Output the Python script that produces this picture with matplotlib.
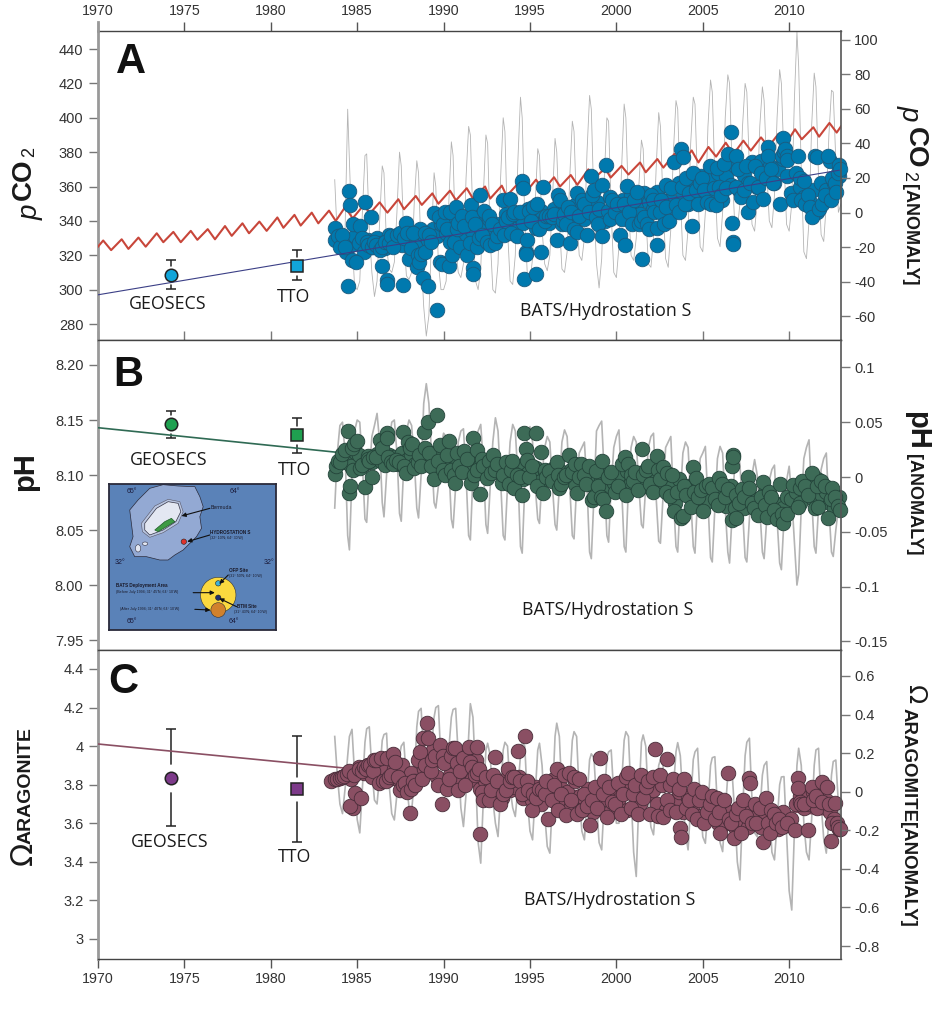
"""Ocean acidification time series: pCO2, pH and aragonite saturation, three stacked panels."""
import matplotlib
matplotlib.use("Agg")
import matplotlib.pyplot as plt
from matplotlib.patches import Polygon, Circle, Ellipse

plt.rcParams["font.family"] = ["Liberation Sans", "DejaVu Sans"]

W, H = 942, 1022
SANS = "Open Sans"

# ── Data ─────────────────────────────────────────────────────────────

year_ticks = [1970, 1975, 1980, 1985, 1990, 1995, 2000, 2005, 2010]

# seasonal time grid of the grey lines, one row per year
gray_years = [
    1983.7, 1983.85,
    1984.0, 1984.15, 1984.3, 1984.45, 1984.55, 1984.7, 1984.85,
    1985.0, 1985.15, 1985.3, 1985.45, 1985.55, 1985.7, 1985.85,
    1986.0, 1986.15, 1986.3, 1986.45, 1986.55, 1986.7, 1986.85,
    1987.0, 1987.15, 1987.3, 1987.45, 1987.55, 1987.7, 1987.85,
    1988.0, 1988.15, 1988.3, 1988.45, 1988.55, 1988.7, 1988.85,
    1989.0, 1989.15, 1989.3, 1989.45, 1989.55, 1989.7, 1989.85,
    1990.0, 1990.15, 1990.3, 1990.45, 1990.55, 1990.7, 1990.85,
    1991.0, 1991.15, 1991.3, 1991.45, 1991.55, 1991.7, 1991.85,
    1992.0, 1992.15, 1992.3, 1992.45, 1992.55, 1992.7, 1992.85,
    1993.0, 1993.15, 1993.3, 1993.45, 1993.55, 1993.7, 1993.85,
    1994.0, 1994.15, 1994.3, 1994.45, 1994.55, 1994.7, 1994.85,
    1995.0, 1995.15, 1995.3, 1995.45, 1995.55, 1995.7, 1995.85,
    1996.0, 1996.15, 1996.3, 1996.45, 1996.55, 1996.7, 1996.85,
    1997.0, 1997.15, 1997.3, 1997.45, 1997.55, 1997.7, 1997.85,
    1998.0, 1998.15, 1998.3, 1998.45, 1998.55, 1998.7, 1998.85,
    1999.0, 1999.15, 1999.3, 1999.45, 1999.55, 1999.7, 1999.85,
    2000.0, 2000.15, 2000.3, 2000.45, 2000.55, 2000.7, 2000.85,
    2001.0, 2001.15, 2001.3, 2001.45, 2001.55, 2001.7, 2001.85,
    2002.0, 2002.15, 2002.3, 2002.45, 2002.55, 2002.7, 2002.85,
    2003.0, 2003.15, 2003.3, 2003.45, 2003.55, 2003.7, 2003.85,
    2004.0, 2004.15, 2004.3, 2004.45, 2004.55, 2004.7, 2004.85,
    2005.0, 2005.15, 2005.3, 2005.45, 2005.55, 2005.7, 2005.85,
    2006.0, 2006.15, 2006.3, 2006.45, 2006.55, 2006.7, 2006.85,
    2007.0, 2007.15, 2007.3, 2007.45, 2007.55, 2007.7, 2007.85,
    2008.0, 2008.15, 2008.3, 2008.45, 2008.55, 2008.7, 2008.85,
    2009.0, 2009.15, 2009.3, 2009.45, 2009.55, 2009.7, 2009.85,
    2010.0, 2010.15, 2010.3, 2010.45, 2010.55, 2010.7, 2010.85,
    2011.0, 2011.15, 2011.3, 2011.45, 2011.55, 2011.7, 2011.85,
    2012.0, 2012.15, 2012.3, 2012.45, 2012.55, 2012.7, 2012.85,
    2013.0,
]

pco2_gray = [
    364, 330,
    322, 320, 335, 405, 375, 330, 302,
    300, 305, 345, 378, 379, 335, 310,
    296, 305, 340, 372, 368, 325, 312,
    310, 316, 345, 380, 372, 330, 308,
    306, 310, 350, 375, 368, 320, 290,
    273, 285, 330, 368, 360, 315, 300,
    300, 305, 350, 386, 378, 325, 310,
    307, 315, 365, 395, 390, 340, 305,
    300, 312, 355, 390, 385, 330, 300,
    298, 315, 365, 400, 392, 335, 305,
    303, 320, 375, 412, 400, 340, 308,
    305, 318, 350, 382, 378, 335, 315,
    311, 320, 352, 388, 380, 340, 312,
    310, 322, 365, 398, 392, 345, 320,
    317, 330, 380, 413, 405, 350, 315,
    301, 318, 365, 400, 398, 345, 310,
    307, 325, 370, 408, 400, 350, 320,
    317, 330, 360, 387, 382, 345, 315,
    313, 330, 370, 403, 395, 350, 318,
    313, 335, 380, 410, 405, 355, 320,
    317, 335, 385, 412, 408, 360, 325,
    322, 345, 395, 422, 415, 365, 330,
    325, 345, 400, 425, 420, 370, 338,
    335, 350, 395, 420, 415, 370, 338,
    334, 352, 395, 418, 410, 370, 340,
    336, 355, 400, 428, 420, 375, 338,
    334, 350, 410, 450, 430, 370, 322,
    318, 340, 395, 426, 418, 365, 332,
    328, 350, 390, 416, 415, 375, 345,
    350,
]

ph_gray = [
    8.07, 8.12,
    8.145, 8.148, 8.12, 8.045, 8.032, 8.10, 8.14,
    8.15, 8.148, 8.11, 8.06, 8.057, 8.10, 8.135,
    8.145, 8.156, 8.13, 8.075, 8.062, 8.10, 8.13,
    8.148, 8.15, 8.12, 8.065, 8.058, 8.11, 8.14,
    8.15, 8.145, 8.115, 8.07, 8.061, 8.10, 8.165,
    8.183, 8.165, 8.12, 8.075, 8.07, 8.09, 8.125,
    8.138, 8.135, 8.11, 8.06, 8.052, 8.09, 8.13,
    8.14, 8.142, 8.10, 8.045, 8.041, 8.10, 8.135,
    8.14, 8.146, 8.11, 8.055, 8.047, 8.09, 8.13,
    8.152, 8.14, 8.095, 8.045, 8.041, 8.09, 8.13,
    8.146, 8.14, 8.10, 8.035, 8.029, 8.09, 8.135,
    8.144, 8.13, 8.09, 8.06, 8.056, 8.10, 8.125,
    8.135, 8.13, 8.09, 8.055, 8.05, 8.09, 8.13,
    8.141, 8.135, 8.09, 8.045, 8.042, 8.09, 8.12,
    8.125, 8.13, 8.09, 8.03, 8.024, 8.08, 8.14,
    8.145, 8.149, 8.10, 8.045, 8.039, 8.09, 8.125,
    8.135, 8.141, 8.09, 8.035, 8.03, 8.09, 8.125,
    8.135, 8.13, 8.09, 8.055, 8.052, 8.09, 8.125,
    8.135, 8.138, 8.08, 8.04, 8.038, 8.08, 8.125,
    8.13, 8.135, 8.08, 8.035, 8.03, 8.08, 8.12,
    8.13, 8.125, 8.08, 8.035, 8.029, 8.08, 8.115,
    8.12, 8.126, 8.075, 8.025, 8.021, 8.07, 8.115,
    8.126, 8.12, 8.07, 8.03, 8.02, 8.065, 8.11,
    8.123, 8.11, 8.07, 8.025, 8.021, 8.06, 8.10,
    8.114, 8.10, 8.07, 8.03, 8.024, 8.06, 8.095,
    8.105, 8.109, 8.06, 8.02, 8.014, 8.06, 8.095,
    8.108, 8.08, 8.04, 8.0, 8.01, 8.07, 8.115,
    8.125, 8.132, 8.08, 8.035, 8.029, 8.07, 8.105,
    8.115, 8.12, 8.07, 8.03, 8.026, 8.05, 8.07,
    8.07,
]

omega_gray = [
    4.05, 3.85,
    3.70, 3.65, 3.78, 3.95, 4.05, 4.087, 3.85,
    3.62, 3.55, 3.78, 4.02, 4.09, 4.10, 3.88,
    3.72, 3.70, 3.85, 4.03, 4.06, 4.067, 3.80,
    3.65, 3.617, 3.75, 3.95, 4.0, 4.02, 3.82,
    3.68, 3.66, 3.82, 4.10, 4.18, 4.196, 3.95,
    3.85, 3.88, 3.98, 4.15, 4.2, 4.21, 3.92,
    3.88, 3.87, 3.98, 4.15, 4.19, 4.196, 3.95,
    3.68, 3.583, 3.75, 4.05, 4.22, 4.15, 3.85,
    3.50, 3.393, 3.72, 3.98, 4.015, 3.95, 3.72,
    3.60, 3.531, 3.75, 3.98, 4.02, 4.0, 3.78,
    3.68, 3.635, 3.78, 3.95, 4.02, 4.0, 3.72,
    3.56, 3.514, 3.75, 3.98, 4.015, 3.9, 3.65,
    3.48, 3.445, 3.72, 4.05, 4.119, 4.05, 3.75,
    3.66, 3.65, 3.80, 4.03, 4.075, 4.05, 3.75,
    3.56, 3.514, 3.72, 3.93, 3.96, 3.94, 3.72,
    3.50, 3.462, 3.72, 3.94, 3.97, 3.98, 3.75,
    3.60, 3.6, 3.8, 4.03, 4.075, 4.05, 3.75,
    3.45, 3.324, 3.72, 4.02, 4.058, 4.0, 3.72,
    3.58, 3.54, 3.72, 3.9, 3.93, 3.9, 3.68,
    3.65, 3.65, 3.78, 3.97, 4.018, 3.95, 3.72,
    3.55, 3.462, 3.7, 3.93, 3.97, 3.989, 3.72,
    3.53, 3.496, 3.68, 3.9, 3.94, 3.945, 3.68,
    3.5, 3.453, 3.66, 3.85, 3.87, 3.86, 3.65,
    3.40, 3.306, 3.65, 3.95, 4.02, 4.041, 3.72,
    3.55, 3.53, 3.65, 3.85, 3.9, 3.92, 3.68,
    3.45, 3.41, 3.6, 3.8, 3.84, 3.842, 3.55,
    3.25, 3.15, 3.55, 3.9, 3.989, 3.9, 3.6,
    3.45, 3.41, 3.62, 3.9, 3.98, 3.989, 3.7,
    3.52, 3.445, 3.62, 3.85, 3.92, 3.928, 3.7,
    3.55,
]

# atmospheric CO2, alternating seasonal high and low
air_years = [
    1970.0, 1970.3, 1970.76, 1971.37, 1971.76, 1972.34, 1972.76, 1973.4, 1973.78, 1974.36,
    1974.79, 1975.37, 1975.75, 1976.35, 1976.77, 1977.35, 1977.74, 1978.36, 1978.74, 1979.34,
    1979.76, 1980.38, 1980.73, 1981.37, 1981.73, 1982.37, 1982.75, 1983.37, 1983.76, 1984.3,
    1984.74, 1985.36, 1985.75, 1986.3, 1986.75, 1987.38, 1987.71, 1988.39, 1988.74, 1989.35,
    1989.7, 1990.37, 1990.72, 1991.34, 1991.7, 1992.4, 1992.7, 1993.37, 1993.65, 1994.33,
    1994.7, 1995.35, 1995.78, 1996.39, 1996.74, 1997.36, 1997.74, 1998.38, 1998.67, 1999.35,
    1999.67, 2000.3, 2000.7, 2001.37, 2001.7, 2002.37, 2002.72, 2003.36, 2003.7, 2004.36,
    2004.75, 2005.33, 2005.77, 2006.33, 2006.77, 2007.35, 2007.78, 2008.37, 2008.8, 2009.38,
    2009.8, 2010.34, 2010.73, 2011.4, 2011.73, 2012.33, 2012.75, 2013.0,
]
air_pco2 = [
    325, 328.6, 323, 329.3, 323.7, 330.3, 325, 332.8, 327.6, 333.6,
    327.6, 334.2, 329, 335.2, 329.3, 337, 331.3, 338.6, 332.8, 339.6,
    334.2, 342, 336, 343.5, 337.3, 344.8, 338.6, 346, 340, 348,
    341.5, 349, 344.5, 350.8, 344.8, 352.6, 346.8, 354.5, 349.3, 356,
    350, 357.6, 352, 359, 353, 360, 353, 360.5, 354.5, 362,
    356, 364, 358, 365.4, 360, 366.7, 361, 370, 364.4, 370.6,
    365.2, 372, 367, 374, 368.3, 376, 371, 379, 372.6, 381,
    374, 383, 377.4, 385.5, 378.8, 386.7, 380.9, 388.6, 383.2, 390.6,
    384.8, 393.3, 387.5, 394.5, 389, 397, 391.4, 395,
]

pco2_dot_years = [
    1983.7, 1983.7, 1983.9, 1984.0,
    1984.15, 1984.3, 1984.47, 1984.55, 1984.6, 1984.68, 1984.74, 1984.93,
    1985.17, 1985.3, 1985.46, 1985.55, 1985.65, 1985.8, 1985.85, 1985.95,
    1986.1, 1986.3, 1986.42, 1986.45, 1986.6, 1986.7, 1986.72, 1986.85, 1986.95,
    1987.1, 1987.3, 1987.45, 1987.63, 1987.7, 1987.83, 1987.9,
    1988.02, 1988.1, 1988.25, 1988.45, 1988.5, 1988.6, 1988.7, 1988.83, 1988.9, 1988.95,
    1989.08, 1989.15, 1989.3, 1989.45, 1989.6, 1989.75, 1989.8, 1989.9, 1989.95,
    1990.1, 1990.2, 1990.34, 1990.4, 1990.5, 1990.6, 1990.72, 1990.75, 1990.85, 1990.95,
    1991.05, 1991.2, 1991.34, 1991.5, 1991.59, 1991.65, 1991.69, 1991.7, 1991.8, 1991.95,
    1992.05, 1992.11, 1992.25, 1992.35, 1992.5, 1992.6, 1992.7, 1992.8, 1992.95,
    1993.1, 1993.25, 1993.46, 1993.5, 1993.6, 1993.7, 1993.85, 1993.9,
    1994.0, 1994.1, 1994.25, 1994.4, 1994.52, 1994.58, 1994.68, 1994.75, 1994.76, 1994.8, 1994.95,
    1995.05, 1995.2, 1995.33, 1995.43, 1995.55, 1995.62, 1995.78, 1995.85, 1995.95,
    1996.1, 1996.25, 1996.4, 1996.55, 1996.65, 1996.75, 1996.9, 1996.95,
    1997.1, 1997.2, 1997.3, 1997.4, 1997.55, 1997.7, 1997.72, 1997.85,
    1998.0, 1998.1, 1998.28, 1998.4, 1998.53, 1998.6, 1998.7, 1998.8, 1998.95,
    1999.0, 1999.18, 1999.19, 1999.38, 1999.5, 1999.65, 1999.75, 1999.9,
    2000.05, 2000.2, 2000.3, 2000.45, 2000.5, 2000.6, 2000.75, 2000.9,
    2001.0, 2001.17, 2001.3, 2001.4, 2001.5, 2001.6, 2001.75, 2001.9,
    2002.0, 2002.1, 2002.2, 2002.33, 2002.34, 2002.5, 2002.6, 2002.75, 2002.9,
    2003.05, 2003.15, 2003.36, 2003.45, 2003.6, 2003.74, 2003.8, 2003.88, 2003.95,
    2004.05, 2004.2, 2004.4, 2004.45, 2004.6, 2004.75, 2004.85, 2004.95,
    2005.1, 2005.25, 2005.4, 2005.5, 2005.65, 2005.75, 2005.85, 2005.95,
    2006.05, 2006.2, 2006.35, 2006.48, 2006.64, 2006.67, 2006.73, 2006.74, 2006.9, 2006.95,
    2007.05, 2007.2, 2007.4, 2007.5, 2007.64, 2007.75, 2007.9,
    2008.05, 2008.2, 2008.35, 2008.5, 2008.65, 2008.76, 2008.8, 2008.95,
    2009.05, 2009.47, 2009.6, 2009.67, 2009.7, 2009.75, 2009.85, 2009.9,
    2010.25, 2010.53, 2010.63, 2010.7, 2010.83, 2010.9,
    2011.1, 2011.2, 2011.34, 2011.5, 2011.6, 2011.75, 2011.9,
    2012.1, 2012.27, 2012.4, 2012.5, 2012.66, 2012.7, 2012.8, 2012.9, 2012.95,
]
pco2_dots = [
    336, 329, 331, 325,
    332, 325, 302, 357.6, 349, 317, 338, 316,
    337, 330, 351, 328, 326, 342.5, 325, 328,
    326, 323, 314, 325, 328, 305.7, 303.4, 327, 331,
    325, 332, 333, 302.6, 330, 338.6, 333,
    318, 324, 333, 313, 320, 316, 321, 307, 333, 322,
    302, 332, 328, 344.5, 288, 342, 316, 315, 338,
    345, 335, 314, 345, 320, 328, 348, 335, 339, 325,
    343, 337, 320, 327, 349, 342, 312.5, 309, 338, 325,
    330, 355, 332, 346, 328, 343, 326, 338, 327,
    331, 335, 352, 332, 340, 342, 353, 333,
    344, 345, 331, 345, 363, 359, 306, 322, 321, 329, 346,
    340, 348, 309, 350, 335, 322, 360, 340, 343,
    343, 342, 344, 329, 355, 352, 340, 344,
    338, 348, 327, 345, 335, 356, 333.8, 343,
    352, 350, 332, 345, 366, 355, 358, 342, 338,
    347, 361, 331, 372.5, 346, 341, 352, 345,
    350, 332, 341, 350, 326, 360.5, 345, 338,
    352, 356.7, 338, 340, 318, 342, 338, 335,
    355, 352, 345, 326, 336, 345, 352, 338, 348,
    340, 359, 374.5, 349, 345, 382, 360, 377, 350,
    365, 356, 337, 368, 358, 350, 362, 365,
    358, 351, 372, 350, 359, 349, 371, 360,
    355, 373, 359, 379, 392, 338.7, 328, 326.6, 378, 360,
    370, 354, 358, 372, 345, 362, 351,
    372, 360, 368, 353, 365, 383, 378, 370,
    362, 350, 378, 388, 380, 382, 378, 375.5,
    352, 378, 365, 352, 363, 350,
    355, 348, 342, 378, 377, 347, 350,
    355, 378, 352, 365, 362, 357, 368, 372.5, 370,
]

ph_dot_years = [
    1983.72, 1983.8, 1983.9, 1984.0,
    1984.15, 1984.3, 1984.45, 1984.55, 1984.58, 1984.7, 1984.8, 1984.97, 1984.75,
    1985.17, 1985.3, 1985.46, 1985.6, 1985.7, 1985.84, 1985.9,
    1986.1, 1986.32, 1986.45, 1986.71, 1986.8, 1986.72, 1986.95,
    1987.1, 1987.25, 1987.4, 1987.63, 1987.7, 1987.83, 1987.95,
    1988.05, 1988.2, 1988.3, 1988.5, 1988.6, 1988.7, 1988.87, 1988.9,
    1989.08, 1989.15, 1989.3, 1989.45, 1989.6, 1989.7, 1989.8, 1989.95,
    1990.1, 1990.2, 1990.34, 1990.45, 1990.6, 1990.66, 1990.75, 1990.9,
    1991.05, 1991.2, 1991.35, 1991.57, 1991.69, 1991.75, 1991.92, 1991.95,
    1992.11, 1992.2, 1992.3, 1992.5, 1992.6, 1992.75, 1992.85, 1992.95,
    1993.1, 1993.36, 1993.45, 1993.6, 1993.8, 1993.9, 1993.95,
    1994.1, 1994.25, 1994.4, 1994.56, 1994.68, 1994.77, 1994.8, 1994.95,
    1995.1, 1995.33, 1995.4, 1995.62, 1995.78, 1995.85, 1995.95,
    1996.1, 1996.3, 1996.55, 1996.6, 1996.7, 1996.8, 1996.95,
    1997.1, 1997.28, 1997.45, 1997.6, 1997.74, 1997.85, 1997.95,
    1998.1, 1998.25, 1998.4, 1998.57, 1998.7, 1998.8, 1998.95,
    1999.1, 1999.19, 1999.25, 1999.38, 1999.5, 1999.7, 1999.9,
    2000.1, 2000.3, 2000.5, 2000.54, 2000.7, 2000.85, 2000.95,
    2001.1, 2001.27, 2001.5, 2001.55, 2001.7, 2001.85, 2001.95,
    2002.14, 2002.33, 2002.4, 2002.55, 2002.7, 2002.85, 2002.95,
    2003.1, 2003.2, 2003.34, 2003.5, 2003.73, 2003.88, 2003.9,
    2004.05, 2004.3, 2004.42, 2004.5, 2004.6, 2004.75, 2004.9,
    2005.03, 2005.2, 2005.35, 2005.55, 2005.7, 2005.9, 2005.95,
    2006.1, 2006.3, 2006.45, 2006.67, 2006.67, 2006.73, 2006.74, 2006.92, 2006.95,
    2007.1, 2007.25, 2007.4, 2007.64, 2007.7, 2007.85, 2007.95,
    2008.22, 2008.35, 2008.5, 2008.6, 2008.7, 2008.85, 2008.95,
    2009.1, 2009.3, 2009.47, 2009.6, 2009.66, 2009.86,
    2010.25, 2010.53, 2010.6, 2010.75, 2010.9,
    2011.1, 2011.3, 2011.5, 2011.6, 2011.69, 2011.85,
    2012.05, 2012.27, 2012.4, 2012.5, 2012.66, 2012.8, 2012.95,
]
ph_dots = [
    8.101, 8.108, 8.113, 8.112,
    8.119, 8.123, 8.14, 8.084, 8.09, 8.125, 8.128, 8.131, 8.105,
    8.106, 8.109, 8.089, 8.115, 8.113, 8.098, 8.116,
    8.116, 8.132, 8.125, 8.138, 8.116, 8.134, 8.112,
    8.11, 8.114, 8.112, 8.139, 8.108, 8.102, 8.13,
    8.125, 8.128, 8.106, 8.112, 8.118, 8.108, 8.139, 8.125,
    8.1485, 8.12, 8.108, 8.096, 8.155, 8.113, 8.127, 8.105,
    8.1, 8.118, 8.131, 8.105, 8.1, 8.093, 8.12, 8.108,
    8.103, 8.122, 8.115, 8.093, 8.134, 8.1, 8.123, 8.105,
    8.083, 8.115, 8.108, 8.097, 8.113, 8.102, 8.118, 8.105,
    8.11, 8.093, 8.1, 8.112, 8.092, 8.105, 8.113,
    8.088, 8.1, 8.098, 8.082, 8.138, 8.124, 8.114, 8.098,
    8.108, 8.138, 8.09, 8.121, 8.084, 8.105, 8.098,
    8.104, 8.095, 8.112, 8.1, 8.088, 8.092, 8.098,
    8.1, 8.118, 8.103, 8.11, 8.084, 8.098, 8.11,
    8.1, 8.092, 8.108, 8.077, 8.08, 8.104, 8.09,
    8.08, 8.113, 8.078, 8.067, 8.098, 8.103, 8.085,
    8.09, 8.11, 8.116, 8.082, 8.11, 8.1, 8.095,
    8.103, 8.086, 8.124, 8.1, 8.105, 8.108, 8.092,
    8.085, 8.117, 8.105, 8.096, 8.107, 8.085, 8.102,
    8.081, 8.1, 8.067, 8.085, 8.061, 8.063, 8.09,
    8.082, 8.071, 8.107, 8.085, 8.097, 8.08, 8.086,
    8.067, 8.09, 8.092, 8.088, 8.078, 8.073, 8.097,
    8.092, 8.08, 8.087, 8.059, 8.108, 8.118, 8.116, 8.061, 8.082,
    8.075, 8.087, 8.08, 8.098, 8.088, 8.075, 8.07,
    8.064, 8.08, 8.094, 8.073, 8.062, 8.085, 8.08,
    8.068, 8.06, 8.092, 8.065, 8.056, 8.065,
    8.091, 8.071, 8.088, 8.095, 8.09,
    8.082, 8.102, 8.07, 8.09, 8.071, 8.095,
    8.09, 8.061, 8.078, 8.088, 8.08, 8.072, 8.068,
]

omega_dot_years = [
    1983.5, 1983.7, 1983.85, 1984.0,
    1984.1, 1984.25, 1984.4, 1984.55, 1984.74, 1984.6, 1984.88, 1985.2, 1984.8,
    1985.1, 1985.3, 1985.4, 1985.5, 1985.6, 1985.75, 1985.9, 1985.95,
    1986.1, 1986.27, 1986.35, 1986.5, 1986.65, 1986.75, 1986.85, 1986.95,
    1987.1, 1987.2, 1987.35, 1987.5, 1987.65, 1987.75, 1987.9,
    1988.06, 1988.1, 1988.25, 1988.35, 1988.5, 1988.64, 1988.75, 1988.82, 1988.9,
    1989.02, 1989.12, 1989.25, 1989.35, 1989.5, 1989.65, 1989.8, 1989.9, 1989.95,
    1990.05, 1990.2, 1990.3, 1990.45, 1990.55, 1990.66, 1990.75, 1990.85, 1990.95,
    1991.1, 1991.25, 1991.45, 1991.55, 1991.65, 1991.8, 1991.92, 1991.95,
    1992.05, 1992.11, 1992.2, 1992.3, 1992.45, 1992.6, 1992.75, 1992.85, 1992.98,
    1993.1, 1993.25, 1993.45, 1993.6, 1993.75, 1993.85, 1993.95,
    1994.1, 1994.33, 1994.4, 1994.55, 1994.71, 1994.8, 1994.9,
    1995.1, 1995.2, 1995.35, 1995.5, 1995.7, 1995.85, 1995.95,
    1996.07, 1996.25, 1996.4, 1996.55, 1996.65, 1996.8, 1996.95,
    1997.1, 1997.25, 1997.4, 1997.55, 1997.7, 1997.85,
    1998.0, 1998.15, 1998.3, 1998.48, 1998.6, 1998.75, 1998.9,
    1999.06, 1999.2, 1999.3, 1999.45, 1999.6, 1999.75, 1999.9,
    2000.1, 2000.25, 2000.4, 2000.55, 2000.7, 2000.85, 2000.95,
    2001.1, 2001.25, 2001.4, 2001.55, 2001.7, 2001.85, 2001.95,
    2002.1, 2002.24, 2002.4, 2002.55, 2002.72, 2002.91, 2002.95,
    2003.1, 2003.3, 2003.45, 2003.6, 2003.7, 2003.72, 2003.9,
    2004.05, 2004.2, 2004.35, 2004.5, 2004.65, 2004.8, 2004.95,
    2005.1, 2005.25, 2005.4, 2005.55, 2005.7, 2005.85, 2005.95,
    2006.0, 2006.2, 2006.44, 2006.5, 2006.65, 2006.8, 2006.9,
    2007.05, 2007.2, 2007.35, 2007.5, 2007.7, 2007.72, 2007.85,
    2008.0, 2008.1, 2008.3, 2008.5, 2008.64, 2008.8, 2008.9, 2008.95,
    2009.1, 2009.25, 2009.4, 2009.6, 2009.85,
    2010.34, 2010.53, 2010.54, 2010.6, 2010.7, 2010.85,
    2011.1, 2011.3, 2011.4, 2011.55, 2011.88, 2011.9,
    2012.2, 2012.3, 2012.42, 2012.5, 2012.65, 2012.75, 2012.85, 2012.95,
]
omega_dots = [
    3.82, 3.83, 3.83, 3.835,
    3.84, 3.845, 3.855, 3.87, 3.678, 3.69, 3.759, 3.733, 3.85,
    3.88, 3.87, 3.89, 3.88, 3.90, 3.9, 3.87, 3.93,
    3.93, 3.81, 3.94, 3.82, 3.82, 3.94, 3.84, 3.85,
    3.96, 3.92, 3.84, 3.77, 3.8, 3.81, 3.76,
    3.655, 3.78, 3.82, 3.8, 3.93, 3.972, 3.83, 4.04, 3.9,
    4.122, 4.041, 3.87, 3.93, 3.95, 3.8, 4.008, 3.70, 3.95,
    3.91, 3.78, 3.83, 3.95, 3.99, 3.99, 3.91, 3.77, 3.87,
    3.94, 3.8, 3.995, 3.92, 3.89, 3.85, 3.998, 3.86,
    3.88, 3.543, 3.76, 3.72, 3.84, 3.72, 3.77, 3.85, 3.946,
    3.82, 3.7, 3.75, 3.77, 3.88, 3.82, 3.84,
    3.84, 3.975, 3.82, 3.75, 4.053, 3.82, 3.77,
    3.669, 3.75, 3.73, 3.78, 3.77, 3.75, 3.82,
    3.621, 3.72, 3.8, 3.88, 3.67, 3.75, 3.85,
    3.645, 3.86, 3.72, 3.84, 3.65, 3.83,
    3.67, 3.75, 3.69, 3.591, 3.72, 3.79, 3.68,
    3.937, 3.75, 3.82, 3.63, 3.79, 3.71, 3.7,
    3.81, 3.65, 3.75, 3.84, 3.86, 3.68, 3.75,
    3.8, 3.65, 3.85, 3.73, 3.79, 3.82, 3.65,
    3.84, 3.985, 3.64, 3.85, 3.635, 3.934, 3.72,
    3.67, 3.83, 3.66, 3.78, 3.574, 3.531, 3.83,
    3.68, 3.72, 3.65, 3.78, 3.62, 3.72, 3.76,
    3.6, 3.66, 3.7, 3.74, 3.62, 3.73, 3.66,
    3.548, 3.72, 3.859, 3.62, 3.6, 3.522, 3.65,
    3.68, 3.55, 3.72, 3.64, 3.833, 3.807, 3.6,
    3.7, 3.6, 3.68, 3.505, 3.73, 3.6, 3.552, 3.67,
    3.65, 3.6, 3.62, 3.58, 3.6,
    3.566, 3.833, 3.782, 3.71, 3.7, 3.7,
    3.566, 3.79, 3.72, 3.74, 3.813, 3.71,
    3.79, 3.7, 3.51, 3.6, 3.704, 3.6, 3.58, 3.569,
]

# dots packed inside the central band of each panel, one row per year
band_years = [
    1984.12, 1984.37, 1984.62, 1984.87, 1985.12, 1985.37, 1985.62, 1985.87,
    1986.12, 1986.37, 1986.62, 1986.87, 1987.12, 1987.37, 1987.62, 1987.87,
    1988.12, 1988.37, 1988.62, 1988.87, 1989.12, 1989.37, 1989.62, 1989.87,
    1990.12, 1990.37, 1990.62, 1990.87, 1991.12, 1991.37, 1991.62, 1991.87,
    1992.12, 1992.37, 1992.62, 1992.87, 1993.12, 1993.37, 1993.62, 1993.87,
    1994.12, 1994.37, 1994.62, 1994.87, 1995.12, 1995.37, 1995.62, 1995.87,
    1996.12, 1996.37, 1996.62, 1996.87, 1997.12, 1997.37, 1997.62, 1997.87,
    1998.12, 1998.37, 1998.62, 1998.87, 1999.12, 1999.37, 1999.62, 1999.87,
    2000.12, 2000.37, 2000.62, 2000.87, 2001.12, 2001.37, 2001.62, 2001.87,
    2002.12, 2002.37, 2002.62, 2002.87, 2003.12, 2003.37, 2003.62, 2003.87,
    2004.12, 2004.37, 2004.62, 2004.87, 2005.12, 2005.37, 2005.62, 2005.87,
    2006.12, 2006.37, 2006.62, 2006.87, 2007.12, 2007.37, 2007.62, 2007.87,
    2008.12, 2008.37, 2008.62, 2008.87, 2009.12, 2009.37, 2009.62, 2009.87,
    2010.12, 2010.37, 2010.62, 2010.87, 2011.12, 2011.37, 2011.62, 2011.87,
    2012.12, 2012.37, 2012.62, 2012.87,
]
pco2_band = [
    328, 322, 326, 331, 327, 322, 329, 325,
    330, 327, 324, 332, 328, 331, 326, 334,
    330, 327, 335, 332, 329, 335, 331, 338,
    333, 328, 340, 336, 331, 339, 334, 342,
    336, 330, 341, 335, 338, 334, 344, 340,
    336, 343, 339, 347, 342, 336, 346, 341,
    339, 347, 343, 338, 345, 340, 349, 343,
    341, 349, 345, 351, 346, 340, 354, 349,
    344, 352, 347, 355, 349, 344, 356, 351,
    347, 357, 352, 361, 352, 347, 362, 356,
    350, 359, 354, 366, 355, 364, 358, 368,
    352, 366, 361, 372, 358, 367, 362, 374,
    360, 375, 366, 372, 362, 370, 376, 366,
    356, 368, 360, 354, 352, 358, 345, 362,
    358, 375, 362, 366,
]
ph_band = [
    8.112, 8.116, 8.108, 8.121, 8.118, 8.11, 8.117, 8.112,
    8.119, 8.113, 8.109, 8.118, 8.116, 8.11, 8.12, 8.114,
    8.118, 8.11, 8.122, 8.113, 8.115, 8.107, 8.121, 8.112,
    8.112, 8.108, 8.117, 8.104, 8.11, 8.118, 8.106, 8.113,
    8.108, 8.112, 8.102, 8.11, 8.104, 8.108, 8.098, 8.106,
    8.103, 8.108, 8.096, 8.102, 8.1, 8.106, 8.095, 8.104,
    8.098, 8.106, 8.092, 8.103, 8.096, 8.105, 8.092, 8.101,
    8.097, 8.103, 8.09, 8.099, 8.095, 8.103, 8.087, 8.093,
    8.098, 8.088, 8.104, 8.094, 8.096, 8.102, 8.09, 8.099,
    8.094, 8.1, 8.088, 8.097, 8.092, 8.075, 8.096, 8.085,
    8.09, 8.078, 8.093, 8.073, 8.083, 8.076, 8.09, 8.08,
    8.086, 8.072, 8.09, 8.07, 8.082, 8.07, 8.088, 8.076,
    8.078, 8.068, 8.085, 8.072, 8.075, 8.065, 8.07, 8.08,
    8.078, 8.085, 8.075, 8.092, 8.086, 8.078, 8.096, 8.083,
    8.085, 8.075, 8.07, 8.08,
]
omega_band = [
    3.84, 3.85, 3.83, 3.86, 3.89, 3.86, 3.9, 3.84,
    3.9, 3.85, 3.88, 3.83, 3.88, 3.83, 3.9, 3.82,
    3.86, 3.82, 3.95, 3.88, 3.9, 3.98, 3.84, 3.93,
    3.92, 3.85, 3.97, 3.83, 3.9, 3.96, 3.83, 3.93,
    3.78, 3.82, 3.75, 3.8, 3.8, 3.73, 3.83, 3.77,
    3.79, 3.84, 3.73, 3.81, 3.72, 3.79, 3.7, 3.8,
    3.75, 3.83, 3.7, 3.78, 3.76, 3.69, 3.82, 3.74,
    3.73, 3.78, 3.66, 3.76, 3.72, 3.8, 3.66, 3.76,
    3.72, 3.78, 3.67, 3.81, 3.76, 3.7, 3.82, 3.75,
    3.77, 3.7, 3.8, 3.67, 3.8, 3.7, 3.76, 3.66,
    3.74, 3.68, 3.76, 3.64, 3.72, 3.65, 3.68, 3.6,
    3.68, 3.6, 3.66, 3.58, 3.62, 3.66, 3.58, 3.68,
    3.64, 3.58, 3.66, 3.6, 3.62, 3.57, 3.66, 3.59,
    3.62, 3.7, 3.74, 3.68, 3.7, 3.76, 3.68, 3.74,
    3.72, 3.66, 3.62, 3.57,
]

trend_years = [1970, 2012.9]
pco2_trend = [297, 369.5]
ph_trend = [8.143, 8.0737]
omega_trend = [4.011, 3.636]

cruise_years = [1974.2, 1981.5]
pco2_cruise = [308.6, 314]
pco2_cruise_hi = [317, 323]
pco2_cruise_lo = [300.5, 305.7]
ph_cruise = [8.146, 8.136]
ph_cruise_hi = [8.158, 8.152]
ph_cruise_lo = [8.1336, 8.12]
omega_cruise = [3.835, 3.778]
omega_cruise_hi = [4.089, 4.05]
omega_cruise_lo = [3.586, 3.503]

pco2_ticks = [280, 300, 320, 340, 360, 380, 400, 420, 440]
pco2_anom_ticks = [-60, -40, -20, 0, 20, 40, 60, 80, 100]
ph_ticks = [7.95, 8.00, 8.05, 8.10, 8.15, 8.20]
ph_anom_ticks = [-0.15, -0.1, -0.05, 0, 0.05, 0.1]
omega_ticks = [3, 3.2, 3.4, 3.6, 3.8, 4, 4.2, 4.4]
omega_anom_ticks = [-0.8, -0.6, -0.4, -0.2, 0, 0.2, 0.4, 0.6]

# inset map outlines
shelf_outline = [(90, 90), (115, 60), (150, 25), (190, 14), (235, 18), (285, 20), (300, 50), (310, 80),
                 (300, 110), (305, 145), (290, 170), (265, 195), (250, 210), (225, 225), (205, 240),
                 (180, 240), (140, 230), (105, 230), (90, 200), (100, 170), (95, 130)]
reef_outline = [(125, 130), (165, 78), (205, 58), (240, 65), (250, 95), (235, 130), (190, 158), (150, 172), (128, 155)]
platform_outline = [(135, 130), (170, 85), (205, 65), (235, 70), (243, 95), (228, 125), (190, 150), (150, 165), (135, 150)]
island_outline = [(165, 150), (195, 125), (215, 115), (225, 125), (200, 140), (175, 155)]


# ── Helpers ──────────────────────────────────────────────────────────

def px(x, y):
    return x / W, 1 - y / H


def label(x, y, s, **kw):
    fx, fy = px(x, y)
    kw.setdefault("ha", "center")
    kw.setdefault("va", "center")
    kw.setdefault("color", "#1a1a1a")
    fig.text(fx, fy, s, **kw)


def panel(top, bottom, ylim, yticks, ylim2, yticks2, fmt, fmt2):
    ax = fig.add_axes([98 / W, 1 - bottom / H, (841 - 98) / W, (bottom - top) / H])
    ax.set_xlim(1970, 2013)
    ax.set_ylim(*ylim)
    ax.set_yticks(yticks)
    ax.set_yticklabels([fmt(v) for v in yticks])
    ax.tick_params(axis="y", length=6.5, width=1, color="#777777", labelsize=10.5, labelcolor="#333333", pad=4)
    ax.spines["left"].set_color("#999999")
    ax.spines["left"].set_linewidth(2)
    for side in ("top", "bottom"):
        ax.spines[side].set_color("#444444")
        ax.spines[side].set_linewidth(1)
    ax.spines["right"].set_visible(False)

    ax2 = ax.twinx()
    ax2.set_ylim(*ylim2)
    ax2.set_yticks(yticks2)
    ax2.set_yticklabels([fmt2(v) for v in yticks2])
    ax2.tick_params(axis="y", length=6.5, width=1, color="#777777", labelsize=10.5, labelcolor="#333333", pad=3)
    for sp in ax2.spines.values():
        sp.set_visible(False)
    ax2.spines["right"].set_visible(True)
    ax2.spines["right"].set_color("#555555")
    ax2.spines["right"].set_linewidth(1.2)
    return ax


def draw_series(ax, gray, gray_lw, dot_x, dot_y, band, face, edge, trend, trend_color, trend_lw, trend_z,
                cruise, hi, lo, cruise_color, halo):
    ax.plot(gray_years, gray, color="#b4b4b4", lw=gray_lw, zorder=2)
    ax.plot(trend_years, trend, color=trend_color, lw=trend_lw, zorder=trend_z)
    ax.scatter(band_years + dot_x, band + dot_y, s=110, facecolor=face, edgecolor=edge, linewidth=0.6,
               zorder=4, clip_on=False)
    # error bars with a gap cut around the marker
    ax.errorbar(cruise_years, cruise, yerr=[[c - l for c, l in zip(cruise, lo)], [h - c for c, h in zip(cruise, hi)]],
                fmt="none", ecolor="#222222", elinewidth=1.1, capsize=3.6, capthick=1.1, zorder=1.5)
    for xv, yv, m, d in zip(cruise_years, cruise, ["o", "s"], halo):
        ax.plot(xv, yv, m, ms=d, color="white", mec="none", zorder=1.8)
        ax.plot(xv, yv, m, ms=9, color=cruise_color, mec="#222222", mew=1.1, zorder=6)


# ── Figure ───────────────────────────────────────────────────────────

fig = plt.figure(figsize=(W / 100, H / 100), dpi=100, facecolor="white")

ax_a = panel(31, 340, (270.7, 450.5), pco2_ticks, (-73.9, 105.2), pco2_anom_ticks, lambda v: f"{v}", lambda v: f"{v}")
ax_b = panel(340, 650, (7.941, 8.2227), ph_ticks, (-0.1578, 0.125), ph_anom_ticks,
             lambda v: f"{v:.2f}", lambda v: f"{v:g}")
ax_c = panel(650, 959, (2.896, 4.4985), omega_ticks, (-0.867, 0.7345), omega_anom_ticks,
             lambda v: f"{v:g}", lambda v: f"{v:g}")

ax_a.plot(air_years, air_pco2, color="#c8463a", lw=1.5, zorder=3)
draw_series(ax_a, pco2_gray, 0.6, pco2_dot_years, pco2_dots, pco2_band, "#0079ae", "#1b5a7e", pco2_trend, "#3b3f86", 0.8, 5,
            pco2_cruise, pco2_cruise_hi, pco2_cruise_lo, "#12a5d9", (13, 13))
draw_series(ax_b, ph_gray, 1.2, ph_dot_years, ph_dots, ph_band, "#3d6b57", "#24443a", ph_trend, "#2f6a54", 1.2, 3,
            ph_cruise, ph_cruise_hi, ph_cruise_lo, "#1fa050", (13, 13))
draw_series(ax_c, omega_gray, 1.2, omega_dot_years, omega_dots, omega_band, "#8a4f63", "#4a2d3a", omega_trend, "#8a4f63", 1.2, 3,
            omega_cruise, omega_cruise_hi, omega_cruise_lo, "#7d3a8a", (20, 17))

# x axes: labelled on the top and bottom of the stack, inward ticks under panel A
for ax in (ax_a, ax_b, ax_c):
    ax.set_xticks(year_ticks)
    ax.tick_params(axis="x", length=6.5, width=1, color="#555555", labelsize=10.3, labelcolor="#333333", pad=3)
ax_a.tick_params(axis="x", top=True, bottom=False, labeltop=True, labelbottom=False)
ax_a.xaxis.remove_overlapping_locs = False
ax_a.set_xticks(year_ticks, minor=True)
ax_a.tick_params(axis="x", which="minor", direction="in", length=6.5, width=1, color="#777777", bottom=True, top=False)
ax_b.tick_params(axis="x", top=False, bottom=False, labelbottom=False)
ax_c.tick_params(axis="x", top=False, bottom=True, labelbottom=True)
fig.add_artist(plt.Line2D([98 / W, 98 / W], [px(0, 22)[1], px(0, 31)[1]], color="#999999", lw=2))

# panel letters
for (x, y, s) in [(131, 62, "A"), (128, 375, "B"), (123, 682, "C")]:
    label(x, y, s, fontsize=30, fontweight="bold", color="#111111")

# left axis titles
label(31, 212, "p", fontsize=20, style="italic", rotation=90)
label(24, 179, "CO", fontsize=20, fontweight="bold", rotation=90)
label(30, 152, "2", fontsize=13, rotation=90)
label(25, 472, "pH", fontsize=21, fontweight="bold", rotation=90)
label(23, 853, "Ω", fontsize=22, rotation=90, family="DejaVu Sans")
label(26, 785, "ARAGONITE", fontsize=14, fontweight="bold", rotation=90)

# right axis titles
label(910, 113, "p", fontsize=20, style="italic", rotation=-90)
label(915, 148, "CO", fontsize=20, fontweight="bold", rotation=-90)
label(909, 176, "2", fontsize=13, rotation=-90)
label(910, 235, "[ANOMALY]", fontsize=13, fontweight="bold", rotation=-90)
label(917, 430, "pH", fontsize=21, fontweight="bold", rotation=-90)
label(913, 505, "[ANOMALY]", fontsize=13, fontweight="bold", rotation=-90)
label(915, 695, "Ω", fontsize=18, rotation=-90, family="DejaVu Sans")
label(908, 817, "ARAGOMITE[ANOMALY]", fontsize=13.4, fontweight="bold", rotation=-90)

# cruise and station names
for (x, y, s) in [(168, 304, "GEOSECS"), (294, 297, "TTO"), (606, 311, "BATS/Hydrostation S"),
                  (169, 460, "GEOSECS"), (295, 470, "TTO"), (608, 610, "BATS/Hydrostation S"),
                  (170, 842, "GEOSECS"), (295, 857, "TTO"), (610, 900, "BATS/Hydrostation S")]:
    label(x, y, s, fontsize=12.8, family=SANS)

# ── Inset map ────────────────────────────────────────────────────────

inset = fig.add_axes([109 / W, 1 - 630 / H, (276 - 109) / W, (630 - 484) / H], zorder=10)
inset.set_xlim(28, 528)
inset.set_ylim(450, 12)
inset.set_facecolor("#5a82b8")
inset.set_xticks([])
inset.set_yticks([])
for sp in inset.spines.values():
    sp.set_color("#2a2a3a")
    sp.set_linewidth(1.3)

inset.add_patch(Polygon(shelf_outline, facecolor="#93a9d3", edgecolor="#2a2a3a", lw=0.5))
inset.add_patch(Polygon(reef_outline, facecolor="#b9c5e0", edgecolor="#555566", lw=0.4))
inset.add_patch(Polygon(platform_outline, facecolor="#e3e7f2", edgecolor="#333344", lw=0.5))
inset.add_patch(Polygon(island_outline, facecolor="#3e9b45", edgecolor="#1d5a28", lw=0.5))
inset.add_patch(Ellipse((115, 205), 16, 22, facecolor="#e3e7f2", edgecolor="#333344", lw=0.4))
inset.add_patch(Ellipse((136, 191), 16, 10, facecolor="#e3e7f2", edgecolor="#333344", lw=0.4))
inset.add_patch(Circle((355, 345), 53, facecolor="#fbd93f", edgecolor="#333333", lw=0.4))
inset.add_patch(Circle((355, 390), 22, facecolor="#d1812c", edgecolor="#333333", lw=0.4))
inset.add_patch(Circle((355, 310), 8, facecolor="#3fb3dc", edgecolor="#222222", lw=0.4))
inset.add_patch(Circle((355, 353), 8, facecolor="#22306e", edgecolor="#222222", lw=0.4))
inset.add_patch(Circle((252, 185), 8, facecolor="#e0322a", edgecolor="#222222", lw=0.4))

arrow_props = dict(arrowstyle="-|>,head_width=0.12,head_length=0.25", color="#111111", lw=0.8, shrinkA=0, shrinkB=0)
for start, end in [((330, 85), (245, 108)), ((330, 165), (262, 185)), ((385, 285), (358, 312)),
                   ((280, 338), (345, 338)), ((410, 380), (358, 355)), ((285, 388), (332, 390))]:
    inset.annotate("", xy=end, xytext=start, arrowprops=arrow_props)

for (x, y, s) in [(95, 35, "65°"), (405, 35, "64°"), (62, 246, "32°"), (508, 246, "32°"),
                  (95, 425, "65°"), (403, 425, "64°")]:
    inset.text(x, y, s, fontsize=5, ha="center", va="center", color="#1a1a3a")
inset.text(333, 82, "Bermuda", fontsize=3.8, va="center", color="#1a1a2a")
inset.text(330, 157, "HYDROSTATION S", fontsize=3.3, fontweight="bold", va="center", color="#1a1a2a")
inset.text(330, 175, "(32° 10'N; 64° 30'W)", fontsize=2.6, va="center", color="#1a1a2a")
inset.text(388, 272, "OFP Site", fontsize=3.3, fontweight="bold", va="center", color="#1a1a2a")
inset.text(388, 289, "(31° 50'N; 64° 10'W)", fontsize=2.6, va="center", color="#1a1a2a")
inset.text(50, 317, "BATS Deployment Area", fontsize=3.3, fontweight="bold", va="center", color="#1a1a2a")
inset.text(50, 336, "(Before July 1994; 31° 45'N; 64° 10'W)", fontsize=2.6, va="center", color="#1a1a2a")
inset.text(62, 387, "(After July 1994; 31° 40'N; 64° 10'W)", fontsize=2.6, va="center", color="#1a1a2a")
inset.text(410, 380, "BTM Site", fontsize=3.3, fontweight="bold", va="center", color="#1a1a2a")
inset.text(402, 397, "(31° 43'N; 64° 10'W)", fontsize=2.6, va="center", color="#1a1a2a")

fig.savefig("out.png", dpi=100, facecolor="white")
